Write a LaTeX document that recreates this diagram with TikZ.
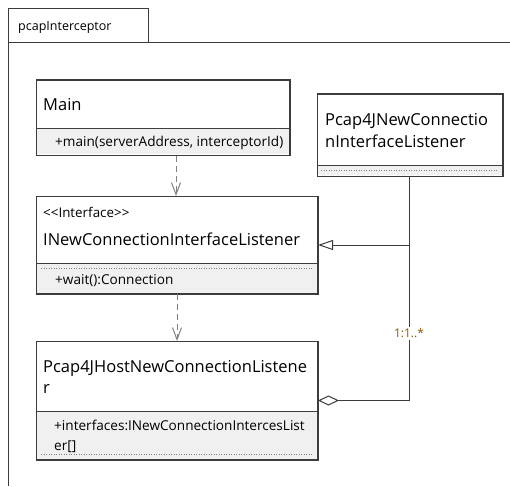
\documentclass[tikz,border=0pt]{standalone}
\usepackage{fontspec}
\setmainfont{Open Sans}
\usetikzlibrary{arrows.meta}
\definecolor{edge}{RGB}{60,60,60}
\definecolor{compart}{RGB}{240,240,240}
\definecolor{mult}{RGB}{140,90,10}
\tikzset{
  classbox/.style={draw=edge, line width=1pt, fill=white, anchor=north west, inner sep=0pt},
  cname/.style={anchor=base west, inner sep=0pt, font=\fontsize{16.5}{18}\selectfont},
  cmember/.style={anchor=base west, inner sep=0pt, font=\fontsize{13.6}{15}\selectfont},
  cstereo/.style={anchor=base west, inner sep=0pt, font=\fontsize{13.4}{15}\selectfont},
  divider/.style={draw=edge, line width=1pt},
  emptycomp/.style={draw=gray, line width=0.5pt, dotted},
  dep/.style={draw=gray, line width=1pt, dash pattern=on 6pt off 4pt, -{Straight Barb[length=12pt,width=9pt]}},
  realize/.style={draw=edge, line width=1pt, -{Triangle[open,length=15pt,width=10pt,fill=white]}},
  aggr/.style={draw=edge, line width=1pt, {Diamond[open,length=21pt,width=10pt,fill=white]}-},
}
\begin{document}
\begin{tikzpicture}[x=1pt,y=-1pt]
\useasboundingbox (0,0) rectangle (510,486);

% package frame and tab
\draw[edge, line width=1pt] (8,486) -- (8,9) -- (148,9) -- (148,43);
\draw[edge, line width=1pt] (8,43) -- (510,43);
\node[anchor=base west, inner sep=0pt, font=\fontsize{12.5}{14}\selectfont] (pkg) at (18,31) {pcapInterceptor};

% class Main
\node[classbox, minimum width=253pt, minimum height=75pt] (main) at (36,80) {};
\fill[compart] (36.5,129) rectangle (288.5,154.5);
\draw[divider] (36,129) -- (289,129);
\draw[edge, line width=1pt] (main.north west) rectangle (main.south east);
\node[cname] (mainname) at (43,111) {Main};
\node[cmember] (mainop) at (55,147) {+main(serverAddress, interceptorId)};

% interface INewConnectionInterfaceListener
\node[classbox, minimum width=281pt, minimum height=97pt] (ifc) at (36,196) {};
\fill[compart] (36.5,263) rectangle (316.5,292.5);
\draw[divider] (36,263) -- (317,263);
\draw[emptycomp] (41,268) -- (312,268);
\draw[edge, line width=1pt] (ifc.north west) rectangle (ifc.south east);
\node[cstereo] (ifcstereo) at (43,217) {<{}<Interface>{}>};
\node[cname] (ifcname) at (43,245) {INewConnectionInterfaceListener};
\node[cmember] (ifcop) at (55,284) {+wait():Connection};

% class Pcap4JNewConnectionInterfaceListener
\node[classbox, minimum width=185pt, minimum height=82pt] (pn) at (317,94) {};
\fill[compart] (317.5,166) rectangle (501.5,175.5);
\draw[divider] (317,166) -- (502,166);
\draw[emptycomp] (321,170) -- (498,170);
\draw[edge, line width=1pt] (pn.north west) rectangle (pn.south east);
\node[cname] (pnname1) at (325,126) {Pcap4JNewConnectio};
\node[cname] (pnname2) at (325,148) {nInterfaceListener};

% class Pcap4JHostNewConnectionListener
\node[classbox, minimum width=281pt, minimum height=118pt] (host) at (36,341) {};
\fill[compart] (36.5,411) rectangle (316.5,458.5);
\draw[divider] (36,411) -- (317,411);
\draw[emptycomp] (41,454) -- (312,454);
\draw[edge, line width=1pt] (host.north west) rectangle (host.south east);
\node[cname] (hostname1) at (43,372) {Pcap4JHostNewConnectionListene};
\node[cname] (hostname2) at (43,393) {r};
\node[cmember] (hostattr1) at (54,430) {+interfaces:INewConnectionIntercesList};
\node[cmember] (hostattr2) at (54,450) {er[]};

% dependencies
\draw[dep] (main.south -| 176,0) -- (ifc.north -| 176,0);
\draw[dep] (ifc.south -| 177,0) -- (host.north -| 177,0);

% realization and aggregation sharing the vertical trunk
\coordinate (trunk) at (pn.south -| 409,0);
\draw[realize] (trunk) |- (ifc.east);
\draw[aggr] (host.east) -| (trunk)
  node[pos=0.65, fill=white, text=mult, inner sep=2pt, font=\fontsize{12}{13}\selectfont] (multlabel) {1:1..*};
\end{tikzpicture}
\end{document}
